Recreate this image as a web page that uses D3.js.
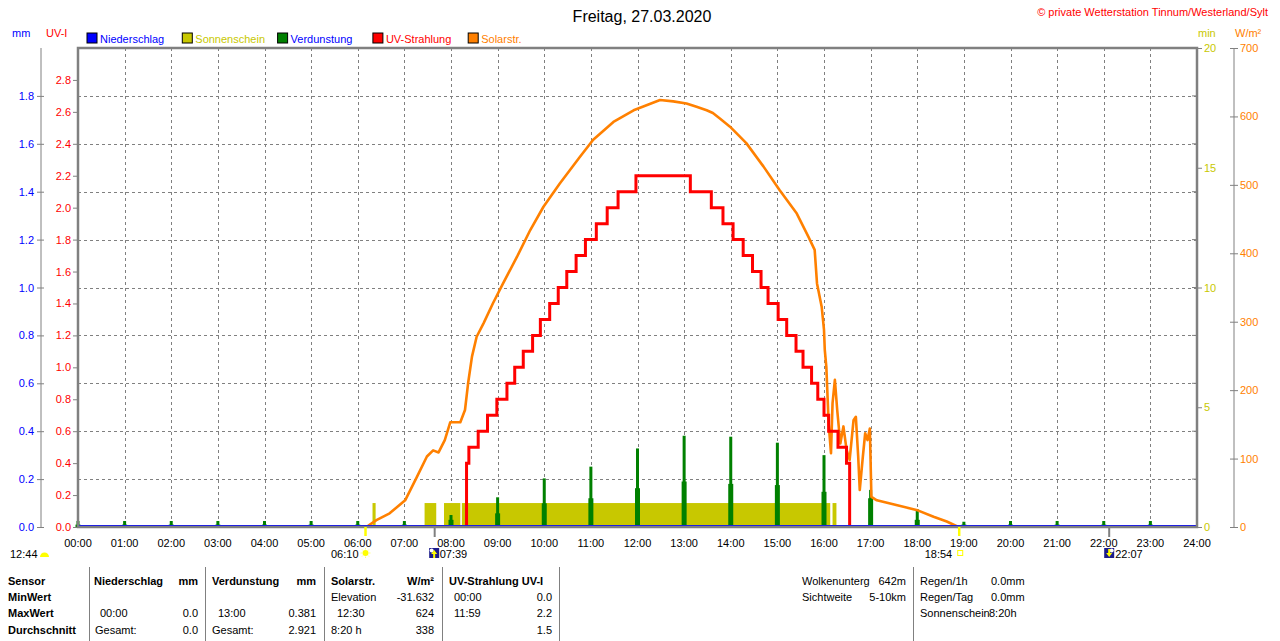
<!DOCTYPE html>
<html>
<head>
<meta charset="utf-8">
<script src="https://cdn.jsdelivr.net/npm/d3@7"></script>
<style>
    body { margin: 0; background: #fff; }
    svg { display: block; font-family: "Liberation Sans", Arial, sans-serif; }
</style>
</head>
<body>
<svg id="chart" width="1280" height="641"></svg>
<script>
// ---- data (times in minutes after midnight) ----
const hourLabels = ['00:00','01:00','02:00','03:00','04:00','05:00','06:00','07:00','08:00','09:00','10:00','11:00','12:00',
    '13:00','14:00','15:00','16:00','17:00','18:00','19:00','20:00','21:00','22:00','23:00','24:00'];
const mmTicks = [0, 0.2, 0.4, 0.6, 0.8, 1.0, 1.2, 1.4, 1.6, 1.8];
const uvTicks = [0, 0.2, 0.4, 0.6, 0.8, 1.0, 1.2, 1.4, 1.6, 1.8, 2.0, 2.2, 2.4, 2.6, 2.8];
const minTicks = [0, 5, 10, 15, 20];
const minMinorTicks = [0, 2, 4, 6, 8, 10, 12, 14, 16, 18, 20];
const wTicks = [0, 100, 200, 300, 400, 500, 600, 700];

// Solarstrahlung W/m²
const solarTime = [371,384,401,421,436,449,457,464,472,479, 492,498,502,507,513,522,534,547,565,582,
    599,620,646,663,689,715,749,766,783,796, 809,817,826,839,860,882,903,925,940,948,
    951,957,960,961,963,966,969,971,974,977, 981,985,989,993,998,1001,1004,1006,1010,1013,
    1016,1019,1021,1028,1053,1079,1101,1118,1133];
const solarValue = [0,10,20,39,73,103,112,109,127,153, 153,171,210,249,278,298,327,356,395,434,
    468,502,541,566,592,609,624,622,619,614, 609,605,597,585,561,527,492,458,424,405,
    356,322,288,259,234,151,108,181,215,171, 122,147,113,98,156,161,103,54,103,137,
    127,144,44,39,32,25,15,8,0];

// UV-Strahlung (step changes)
const uvTime = [500,500,503,515,527,539,552,562,573,585,595,607,618,629,641,653,667,681,695,718,
    788,815,830,843,856,868,879,888,901,912,924,933,944,952,960,966,978,989,993];
const uvValue = [0,0.4,0.5,0.6,0.7,0.8,0.9,1.0,1.1,1.2,1.3,1.4,1.5,1.6,1.7,1.8,1.9,2.0,2.1,2.2,
    2.1,2.0,1.9,1.8,1.7,1.6,1.5,1.4,1.3,1.2,1.1,1.0,0.9,0.8,0.7,0.6,0.5,0.4,0];

// Verdunstung mm, one spike per hour
const evapHour = [0,1,2,3,4,5,6,7,8,9,10,11,12,13,14,15,16,17,18,19,20,21,22,23];
const evapPeak = [0.025,0.025,0.025,0.025,0.025,0.025,0.025,0.025,0.05,0.124,0.203,0.252,0.328,0.381,
    0.377,0.352,0.30,0.155,0.074,0.022,0.025,0.025,0.025,0.025];
const evapShoulder = [0.01,0.01,0.01,0.01,0.01,0.01,0.01,0.01,0.03,0.057,0.099,0.12,0.162,0.19,
    0.18,0.175,0.147,0.12,0.03,0.01,0.01,0.01,0.01,0.01];

// Sonnenschein min
const sunStart = [379, 446, 471, 494, 971];
const sunEnd = [383, 461, 492, 968, 976];
const sunValue = [1, 1, 1, 1, 1];

const legendLabels = ['Niederschlag', 'Sonnenschein', 'Verdunstung', 'UV-Strahlung', 'Solarstr.'];
const legendFill = ['#0000ff', '#c8c800', '#008000', '#ff0000', '#ff8000'];
const legendText = ['#0000ff', '#c8c800', '#0000ff', '#ff0000', '#ff8000'];

// sun / moon events
const sunrise = 370, sunset = 1134, moonrise = 459, moonset = 1327;

// ---- drawing ----
const svg = d3.select('#chart');
const grey = '#808080';
const fs = '11px';

const x = d3.scaleLinear().domain([0, 1440]).range([78, 1197]);
const yMm = d3.scaleLinear().domain([0, 2]).range([527, 48]);
const yUv = d3.scaleLinear().domain([0, 3]).range([527, 48]);
const yMin = d3.scaleLinear().domain([0, 20]).range([527, 48]);
const yW = d3.scaleLinear().domain([0, 700]).range([527, 48]);

// title + copyright
svg.append('text').attr('x', 642).attr('y', 22).attr('text-anchor', 'middle')
    .style('font-size', '16px').text('Freitag, 27.03.2020');
svg.append('text').attr('x', 1268).attr('y', 16).attr('text-anchor', 'end')
    .style('font-size', fs).style('fill', '#ff0000')
    .text('© private Wetterstation Tinnum/Westerland/Sylt');

// unit labels
svg.append('text').attr('x', 12).attr('y', 37).style('font-size', fs).style('fill', '#0000ff').text('mm');
svg.append('text').attr('x', 46).attr('y', 37).style('font-size', fs).style('fill', '#ff0000').text('UV-I');
svg.append('text').attr('x', 1198).attr('y', 37).style('font-size', fs).style('fill', '#c8c800').text('min');
svg.append('text').attr('x', 1235).attr('y', 37).style('font-size', fs).style('fill', '#ff8000').text('W/m²');

// legend
const legend = svg.append('g').selectAll('g')
    .data(legendLabels)
    .join('g')
    .attr('transform', (d, i) => `translate(${87 + i * 95.3},33)`);
legend.append('rect').attr('width', 10).attr('height', 10)
    .style('fill', (d, i) => legendFill[i]).style('stroke', '#000').style('stroke-width', 1);
legend.append('text').attr('x', 13).attr('y', 9.5).style('font-size', fs)
    .style('fill', (d, i) => legendText[i]).text(d => d);

// grid
const grid = svg.append('g').style('stroke', grey).style('stroke-width', 1).style('stroke-dasharray', '3,3');
grid.selectAll('line.v')
    .data(d3.range(1, 24))
    .join('line')
    .attr('x1', d => Math.round(x(d * 60)) + 0.5).attr('x2', d => Math.round(x(d * 60)) + 0.5)
    .attr('y1', 48).attr('y2', 527);
grid.selectAll('line.h')
    .data(mmTicks.slice(1))
    .join('line')
    .attr('x1', 78).attr('x2', 1197)
    .attr('y1', d => Math.round(yMm(d)) + 0.5).attr('y2', d => Math.round(yMm(d)) + 0.5);

// sunshine bars
svg.append('g').selectAll('rect')
    .data(sunStart)
    .join('rect')
    .attr('x', (d, i) => x(d))
    .attr('width', (d, i) => x(sunEnd[i]) - x(d))
    .attr('y', (d, i) => yMin(sunValue[i]))
    .attr('height', (d, i) => yMin(0) - yMin(sunValue[i]))
    .style('fill', '#c8c800');

// evaporation spikes
const evap = svg.append('g').style('fill', '#008000');
evap.selectAll('rect.s')
    .data(evapHour)
    .join('rect')
    .attr('x', d => x(d * 60) - 2.5).attr('width', 5)
    .attr('y', (d, i) => yMm(evapShoulder[i]))
    .attr('height', (d, i) => yMm(0) - yMm(evapShoulder[i]));
evap.selectAll('rect.p')
    .data(evapHour)
    .join('rect')
    .attr('x', d => x(d * 60) - 1.5).attr('width', 3)
    .attr('y', (d, i) => yMm(evapPeak[i]))
    .attr('height', (d, i) => yMm(0) - yMm(evapPeak[i]));

// solar radiation
const solarLine = d3.line()
    .x((d, i) => x(solarTime[i]))
    .y(d => yW(d));
svg.append('path')
    .datum(solarValue)
    .attr('d', solarLine)
    .style('fill', 'none').style('stroke', '#ff8000').style('stroke-width', 2.6)
    .style('stroke-linejoin', 'round');

// UV line
const uvLine = d3.line()
    .x((d, i) => x(uvTime[i]))
    .y(d => yUv(d))
    .curve(d3.curveStepAfter);
svg.append('path')
    .datum(uvValue)
    .attr('d', uvLine)
    .style('fill', 'none').style('stroke', '#ff0000').style('stroke-width', 3);

// precipitation (all zero) along the bottom
svg.append('line')
    .attr('x1', x(0)).attr('x2', x(1440))
    .attr('y1', yMm(0) - 1).attr('y2', yMm(0) - 1)
    .style('stroke', '#0000ff').style('stroke-width', 2);

// plot frame
svg.append('rect').attr('x', 78).attr('y', 48).attr('width', 1119).attr('height', 479)
    .style('fill', 'none').style('stroke', grey).style('stroke-width', 2.5);

// left axes
const mmAxis = svg.append('g').attr('transform', 'translate(41,0)')
    .call(d3.axisLeft(yMm).tickValues(mmTicks).tickFormat(d3.format('.1f')).tickSize(4).tickSizeOuter(0).tickPadding(3));
mmAxis.select('.domain').attr('d', 'M0,48V527').style('stroke', grey);
mmAxis.selectAll('.tick line').attr('x1', 3).style('stroke', grey);
mmAxis.selectAll('text').style('fill', '#0000ff').style('font-size', fs).style('font-family', null);

const uvAxis = svg.append('g').attr('transform', 'translate(77,0)')
    .call(d3.axisLeft(yUv).tickValues(uvTicks).tickFormat(d3.format('.1f')).tickSize(4).tickPadding(2));
uvAxis.select('.domain').remove();
uvAxis.selectAll('.tick line').style('stroke', grey);
uvAxis.selectAll('text').style('fill', '#ff0000').style('font-size', fs).style('font-family', null);

// right axes
const minAxis = svg.append('g').attr('transform', 'translate(1197,0)')
    .call(d3.axisRight(yMin).tickValues(minTicks).tickSize(5).tickPadding(2));
minAxis.select('.domain').remove();
minAxis.selectAll('.tick line').style('stroke', grey);
minAxis.selectAll('text').style('fill', '#c8c800').style('font-size', fs).style('font-family', null);
minAxis.selectAll('line.minor')
    .data(minMinorTicks)
    .join('line')
    .attr('x1', -5).attr('x2', 0)
    .attr('y1', d => yMin(d)).attr('y2', d => yMin(d))
    .style('stroke', grey);

const wAxis = svg.append('g').attr('transform', 'translate(1234,0)')
    .call(d3.axisRight(yW).tickValues(wTicks).tickSize(4).tickSizeOuter(0).tickPadding(2));
wAxis.select('.domain').attr('d', 'M0,48V527').style('stroke', grey);
wAxis.selectAll('.tick line').attr('x1', -4).style('stroke', grey);
wAxis.selectAll('text').style('fill', '#ff8000').style('font-size', fs).style('font-family', null);

// time axis labels
svg.append('g').selectAll('text')
    .data(hourLabels)
    .join('text')
    .attr('x', (d, i) => x(i * 60))
    .attr('y', 547)
    .attr('text-anchor', 'middle')
    .style('font-size', fs)
    .text(d => d);

// sun and moon marks on the time axis
svg.append('line').attr('x1', x(sunrise)).attr('x2', x(sunrise)).attr('y1', 527).attr('y2', 536)
    .style('stroke', '#ffff00').style('stroke-width', 2.5);
svg.append('line').attr('x1', x(sunset)).attr('x2', x(sunset)).attr('y1', 527).attr('y2', 536)
    .style('stroke', '#ffff00').style('stroke-width', 2.5);
svg.append('line').attr('x1', x(moonrise)).attr('x2', x(moonrise)).attr('y1', 527).attr('y2', 537)
    .style('stroke', grey).style('stroke-width', 2);
svg.append('line').attr('x1', x(moonset)).attr('x2', x(moonset)).attr('y1', 527).attr('y2', 537)
    .style('stroke', grey).style('stroke-width', 2);

const ev = svg.append('g').style('font-size', fs);
ev.append('text').attr('x', 10).attr('y', 558).text('12:44');
ev.append('path').attr('d', 'M40,557A4.5,4.5 0 0 1 49,557Z').style('fill', '#ffff00');

ev.append('text').attr('x', x(sunrise) - 7).attr('y', 558).attr('text-anchor', 'end').text('06:10');
const sun = ev.append('g').attr('transform', `translate(${x(sunrise)},553)`);
sun.append('circle').attr('r', 3).style('fill', '#ffff00');
sun.selectAll('line').data(d3.range(8)).join('line')
    .attr('x1', d => 3.5 * Math.cos(d * Math.PI / 4)).attr('y1', d => 3.5 * Math.sin(d * Math.PI / 4))
    .attr('x2', d => 5 * Math.cos(d * Math.PI / 4)).attr('y2', d => 5 * Math.sin(d * Math.PI / 4))
    .style('stroke', '#ffff80').style('stroke-width', 1);

function moonIcon(cx, up) {
    const g = ev.append('g').attr('transform', `translate(${cx},548)`);
    g.append('rect').attr('width', 10).attr('height', 10).style('fill', '#1c1c8c');
    g.append('circle').attr('cx', up ? 2.5 : 7.5).attr('cy', 2.5).attr('r', 2).style('fill', '#fff');
    g.append('path')
        .attr('d', up ? 'M5,2L8,6H6V10H4V6H2Z' : 'M5,9L8,5H6V1H4V5H2Z')
        .style('fill', '#ffff00');
}
moonIcon(x(moonrise) - 5.5, true);
ev.append('text').attr('x', x(moonrise) + 5).attr('y', 558).text('07:39');

ev.append('text').attr('x', x(sunset) - 7).attr('y', 558).attr('text-anchor', 'end').text('18:54');
ev.append('rect').attr('x', x(sunset) - 1.5).attr('y', 550.5).attr('width', 5).attr('height', 5)
    .style('fill', 'none').style('stroke', '#ffff00').style('stroke-width', 1);

moonIcon(x(moonset) - 5, false);
ev.append('text').attr('x', x(moonset) + 6).attr('y', 558).text('22:07');

// statistics table
const rowY = [585, 601, 617, 634];
const table = svg.append('g').style('font-size', fs);
[89, 205, 324, 442, 559, 913].forEach(sx => {
    table.append('line').attr('x1', sx + 0.5).attr('x2', sx + 0.5).attr('y1', 567).attr('y2', 641)
        .style('stroke', grey);
});
function cell(tx, row, txt, opts = {}) {
    table.append('text').attr('x', tx).attr('y', rowY[row])
        .attr('text-anchor', opts.end ? 'end' : 'start')
        .style('font-weight', opts.bold ? 'bold' : 'normal')
        .text(txt);
}
['Sensor', 'MinWert', 'MaxWert', 'Durchschnitt'].forEach((t, i) => cell(8, i, t, { bold: true }));
cell(94, 0, 'Niederschlag', { bold: true }); cell(198, 0, 'mm', { bold: true, end: true });
cell(212, 0, 'Verdunstung', { bold: true }); cell(316, 0, 'mm', { bold: true, end: true });
cell(331, 0, 'Solarstr.', { bold: true }); cell(434, 0, 'W/m²', { bold: true, end: true });
cell(449, 0, 'UV-Strahlung UV-I', { bold: true });

cell(331, 1, 'Elevation'); cell(434, 1, '-31.632', { end: true });
cell(454, 1, '00:00'); cell(552, 1, '0.0', { end: true });

cell(100, 2, '00:00'); cell(198, 2, '0.0', { end: true });
cell(218, 2, '13:00'); cell(316, 2, '0.381', { end: true });
cell(337, 2, '12:30'); cell(434, 2, '624', { end: true });
cell(454, 2, '11:59'); cell(552, 2, '2.2', { end: true });

cell(95, 3, 'Gesamt:'); cell(198, 3, '0.0', { end: true });
cell(212, 3, 'Gesamt:'); cell(316, 3, '2.921', { end: true });
cell(331, 3, '8:20 h'); cell(434, 3, '338', { end: true });
cell(552, 3, '1.5', { end: true });

cell(802, 0, 'Wolkenunterg'); cell(906, 0, '642m', { end: true });
cell(802, 1, 'Sichtweite'); cell(906, 1, '5-10km', { end: true });
cell(920, 0, 'Regen/1h'); cell(991, 0, '0.0mm');
cell(920, 1, 'Regen/Tag'); cell(991, 1, '0.0mm');
cell(920, 2, 'Sonnenschein'); cell(989, 2, '8:20h');
</script>
</body>
</html>
